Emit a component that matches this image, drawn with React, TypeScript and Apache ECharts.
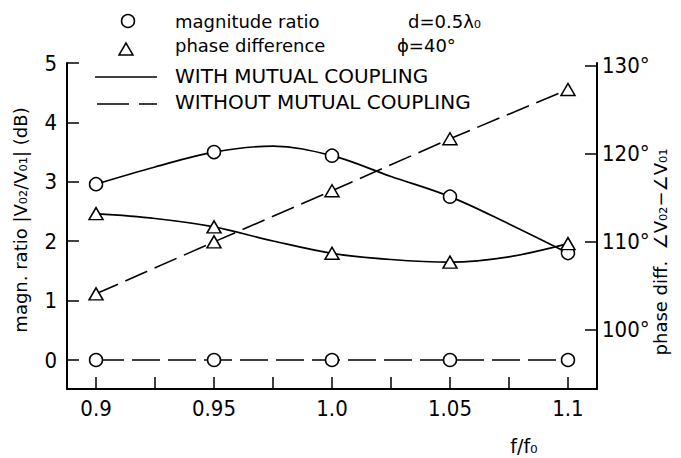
import React, { useEffect, useRef } from "react";
import * as echarts from "echarts";

// Measured points (markers)
const freqs = [0.9, 0.95, 1.0, 1.05, 1.1];
const magWith = [2.96, 3.5, 3.44, 2.75, 1.8];
const phaseWith = [113.2, 111.7, 108.7, 107.7, 109.8];
const magWithout = [0, 0, 0, 0, 0];
const phaseWithout = [104.1, 110.0, 115.8, 121.7, 127.3];

// Fitted curves
const curveFreqs = [0.9, 0.925, 0.95, 0.975, 1.0, 1.025, 1.05, 1.075, 1.1];
const magWithCurve = [2.96, 3.25, 3.5, 3.6, 3.44, 3.09, 2.75, 2.29, 1.8];
const phaseWithCurve = [113.2, 112.65, 111.7, 110.1, 108.7, 108.0, 107.7, 108.3, 109.8];

const leftTicks = [0, 1, 2, 3, 4, 5];
const rightTicks = [100, 110, 120, 130];
const xMajorTicks = [0.9, 0.95, 1.0, 1.05, 1.1];
const xTickLabels = ["0.9", "0.95", "1.0", "1.05", "1.1"];
const xAllTicks = [0.9, 0.925, 0.95, 0.975, 1.0, 1.025, 1.05, 1.075, 1.1];

const TICK_FONT = "'Liberation Sans Narrow', 'DejaVu Sans Condensed', 'Liberation Sans', sans-serif";
const TEXT_FONT = "'DejaVu Sans', sans-serif";

export default function App() {
  const ref = useRef<HTMLDivElement>(null);
  useEffect(() => {
    if (!ref.current) return;
    const chart = echarts.init(ref.current, null, { renderer: "svg" });
    const pair = (xs: number[], ys: number[]) => xs.map((f, i) => [f, ys[i]]);
    const markerStyle = { color: "#fff", borderColor: "#000", borderWidth: 1.5, opacity: 1 };
    const axisCommon = {
      axisLine: { show: true, onZero: false, lineStyle: { color: "#000", width: 2 } },
      splitLine: { show: false },
    };
    chart.setOption({
      animation: false,
      backgroundColor: "#fff",
      grid: { left: 67, right: 84, top: 63, bottom: 69 },
      xAxis: {
        type: "value",
        min: 0.8877,
        max: 1.1123,
        ...axisCommon,
        axisTick: { show: true, inside: true, length: 12, customValues: xAllTicks, lineStyle: { color: "#000", width: 1.5 } },
        axisLabel: {
          customValues: xMajorTicks,
          margin: 8,
          color: "#000",
          fontSize: 22,
          fontFamily: TICK_FONT,
          formatter: (v: number) => {
            const i = xMajorTicks.findIndex((t) => Math.abs(t - v) < 1e-6);
            return i >= 0 ? xTickLabels[i] : "";
          },
        },
      },
      yAxis: [
        {
          type: "value",
          position: "left",
          min: -0.488,
          max: 5,
          ...axisCommon,
          axisTick: { show: true, inside: true, length: 12, customValues: leftTicks, lineStyle: { color: "#000", width: 1.5 } },
          axisLabel: { customValues: leftTicks, margin: 10, color: "#000", fontSize: 22, fontFamily: TICK_FONT },
        },
        {
          type: "value",
          position: "right",
          min: 93.3,
          max: 130.3,
          ...axisCommon,
          axisTick: { show: true, inside: true, length: 12, customValues: rightTicks, lineStyle: { color: "#000", width: 1.5 } },
          axisLabel: {
            customValues: rightTicks,
            margin: 5,
            color: "#000",
            fontSize: 22,
            fontFamily: TICK_FONT,
            formatter: (v: number) => v + "°",
          },
        },
      ],
      series: [
        {
          name: "magnitude ratio curve (with coupling)",
          type: "line",
          yAxisIndex: 0,
          data: pair(curveFreqs, magWithCurve),
          smooth: 0.35,
          showSymbol: false,
          symbol: "none",
          lineStyle: { color: "#000", width: 1.7 },
          z: 2,
        },
        {
          name: "phase difference curve (with coupling)",
          type: "line",
          yAxisIndex: 1,
          data: pair(curveFreqs, phaseWithCurve),
          smooth: 0.35,
          showSymbol: false,
          symbol: "none",
          lineStyle: { color: "#000", width: 1.7 },
          z: 2,
        },
        {
          name: "magnitude ratio (without coupling)",
          type: "line",
          yAxisIndex: 0,
          data: pair(freqs, magWithout),
          symbol: "circle",
          symbolSize: 13,
          itemStyle: markerStyle,
          lineStyle: { color: "#000", width: 1.6, type: [28, 8] },
          z: 3,
        },
        {
          name: "phase difference (without coupling)",
          type: "line",
          yAxisIndex: 1,
          data: pair(freqs, phaseWithout),
          symbol: "triangle",
          symbolSize: [14, 12],
          itemStyle: markerStyle,
          lineStyle: { color: "#000", width: 1.6, type: [24, 8] },
          z: 3,
        },
        {
          name: "magnitude ratio (with coupling)",
          type: "scatter",
          yAxisIndex: 0,
          data: pair(freqs, magWith),
          symbol: "circle",
          symbolSize: 13,
          itemStyle: markerStyle,
          z: 4,
        },
        {
          name: "phase difference (with coupling)",
          type: "scatter",
          yAxisIndex: 1,
          data: pair(freqs, phaseWith),
          symbol: "triangle",
          symbolSize: [14, 12],
          itemStyle: markerStyle,
          z: 4,
        },
      ],
      graphic: [
        { type: "circle", shape: { cx: 128, cy: 21, r: 6.5 }, style: { fill: "none", stroke: "#000", lineWidth: 1.5 } },
        { type: "polygon", shape: { points: [[126, 43], [119, 55], [133, 55]] }, style: { fill: "none", stroke: "#000", lineWidth: 1.5 } },
        { type: "line", shape: { x1: 95, y1: 77, x2: 157, y2: 77 }, style: { stroke: "#000", lineWidth: 1.6 } },
        { type: "line", shape: { x1: 97, y1: 104, x2: 157, y2: 104 }, style: { stroke: "#000", lineWidth: 1.6, lineDash: [32, 10] } },
        { type: "text", x: 175, y: 21, style: { text: "magnitude ratio", font: `18px ${TEXT_FONT}`, fill: "#000", align: "left", verticalAlign: "middle" } },
        { type: "text", x: 175, y: 45, style: { text: "phase difference", font: `18px ${TEXT_FONT}`, fill: "#000", align: "left", verticalAlign: "middle" } },
        { type: "text", x: 175, y: 76, style: { text: "WITH MUTUAL COUPLING", font: `20px ${TEXT_FONT}`, fill: "#000", align: "left", verticalAlign: "middle" } },
        { type: "text", x: 175, y: 102, style: { text: "WITHOUT MUTUAL COUPLING", font: `20px ${TEXT_FONT}`, fill: "#000", align: "left", verticalAlign: "middle" } },
        { type: "text", x: 408, y: 21, style: { text: "d=0.5λ₀", font: `18px ${TEXT_FONT}`, fill: "#000", align: "left", verticalAlign: "middle" } },
        { type: "text", x: 397, y: 45, style: { text: "ϕ=40°", font: `18px ${TEXT_FONT}`, fill: "#000", align: "left", verticalAlign: "middle" } },
        { type: "text", x: 20, y: 220, rotation: Math.PI / 2, style: { text: "magn. ratio |V₀₂/V₀₁| (dB)", font: `18px ${TEXT_FONT}`, fill: "#000", align: "center", verticalAlign: "middle" } },
        { type: "text", x: 660, y: 252, rotation: Math.PI / 2, style: { text: "phase diff.  ∠V₀₂−∠V₀₁", font: `18px ${TEXT_FONT}`, fill: "#000", align: "center", verticalAlign: "middle" } },
        { type: "text", x: 524, y: 446, style: { text: "f/f₀", font: `19px ${TEXT_FONT}`, fill: "#000", align: "center", verticalAlign: "middle" } },
      ],
    });
    return () => chart.dispose();
  }, []);
  return <div ref={ref} style={{ position: "fixed", left: 0, top: 0, width: 681, height: 458 }} />;
}
